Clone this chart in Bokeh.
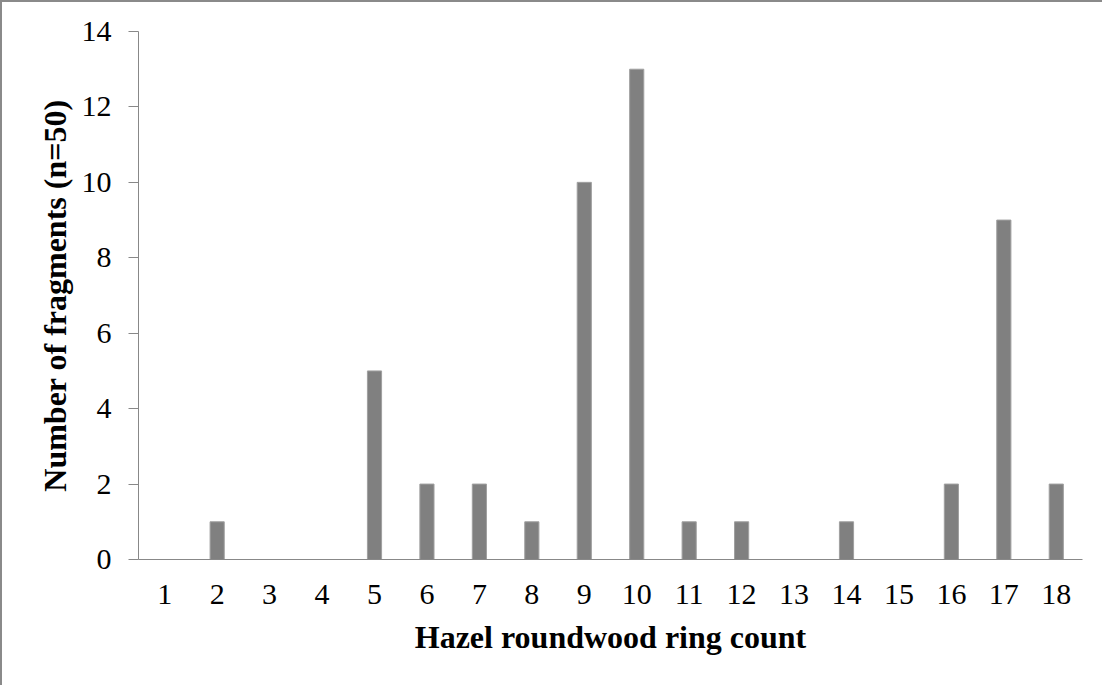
from bokeh.plotting import figure
from bokeh.models import ColumnDataSource, FactorRange
from bokeh.embed import file_html
from bokeh.resources import INLINE

ring_counts = [str(i) for i in range(1, 19)]
fragments = [0, 1, 0, 0, 5, 2, 2, 1, 10, 13, 1, 1, 0, 1, 0, 2, 9, 2]
y_ticks = [0, 2, 4, 6, 8, 10, 12, 14]

src = ColumnDataSource(dict(x=ring_counts, top=fragments))

p = figure(width=1102, height=685, output_backend="svg", toolbar_location=None,
           x_range=FactorRange(*ring_counts, range_padding=0), y_range=(0, 14),
           min_border_left=136, min_border_top=29, min_border_right=22, min_border_bottom=128)
p.styles = {"border-top": "2px solid #8a8a8a", "border-left": "2px solid #8a8a8a"}

p.vbar(x="x", top="top", width=0.27, source=src, fill_color="#808080", line_color="#a0a0a0", line_width=1)

p.outline_line_color = None
p.xgrid.grid_line_color = None
p.ygrid.grid_line_color = None

axis_color = "#888888"
font = "Liberation Serif"

p.yaxis.ticker = y_ticks
p.yaxis.major_tick_out = 10
p.yaxis.major_tick_in = 0
p.yaxis.minor_tick_line_color = None
p.yaxis.axis_line_color = axis_color
p.yaxis.major_tick_line_color = axis_color
p.yaxis.major_label_text_font = font
p.yaxis.major_label_text_font_size = "30px"
p.yaxis.major_label_text_color = "black"
p.yaxis.major_label_standoff = 17
p.yaxis.axis_label = "Number of fragments (n=50)"
p.yaxis.axis_label_text_font = font
p.yaxis.axis_label_text_font_style = "bold"
p.yaxis.axis_label_text_font_size = "32px"
p.yaxis.axis_label_text_color = "black"
p.yaxis.axis_label_standoff = 6

p.xaxis.major_tick_out = 0
p.xaxis.major_tick_in = 0
p.xaxis.axis_line_color = axis_color
p.xaxis.major_label_text_font = font
p.xaxis.major_label_text_font_size = "30px"
p.xaxis.major_label_text_color = "black"
p.xaxis.major_label_standoff = 25
p.xaxis.axis_label = "Hazel roundwood ring count"
p.xaxis.axis_label_text_font = font
p.xaxis.axis_label_text_font_style = "bold"
p.xaxis.axis_label_text_font_size = "32px"
p.xaxis.axis_label_text_color = "black"
p.xaxis.axis_label_standoff = 12

open("out.html", "w").write(file_html(p, INLINE))
